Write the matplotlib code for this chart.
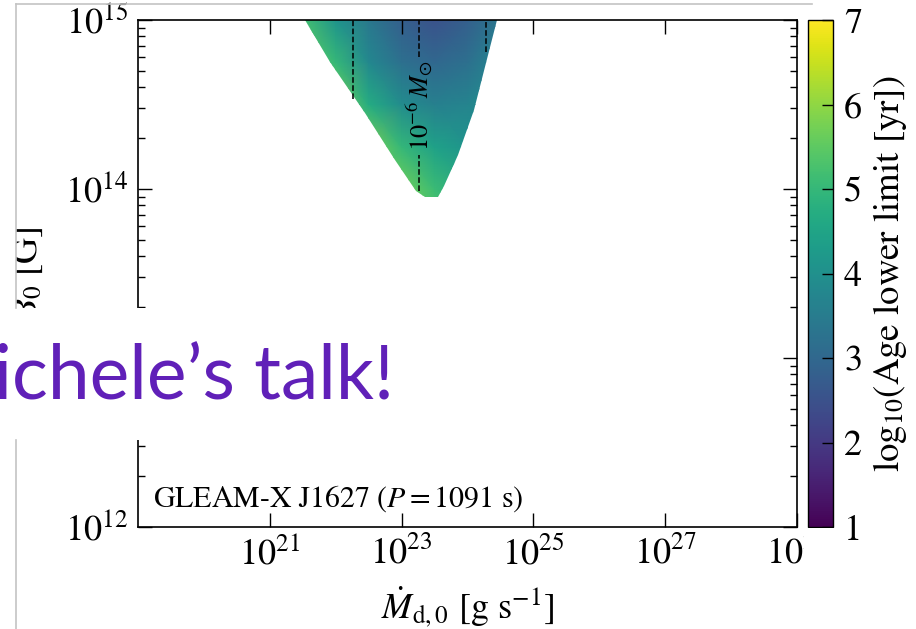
import matplotlib
matplotlib.use('Agg')
import matplotlib.pyplot as plt
import numpy as np
from matplotlib import ticker
from matplotlib.patches import Polygon, Rectangle
from matplotlib.lines import Line2D

plt.rcParams['font.family'] = 'STIXGeneral'
plt.rcParams['mathtext.fontset'] = 'stix'

# Age lower limit table, log10(yr), on a grid of log10(Mdot) x log10(B0)
log_mdot_grid = [21.5, 22.0, 22.5, 23.0, 23.5, 24.0, 24.5]
log_b_grid = [13.9, 14.0, 14.25, 14.5, 14.75, 15.0]
log_age = [
    [5.8, 5.8, 5.8, 5.8, 5.3, 4.7, 4.7],
    [5.8, 5.8, 5.8, 5.7, 5.1, 4.6, 4.6],
    [5.8, 5.8, 5.8, 5.0, 4.4, 4.1, 4.2],
    [5.8, 5.8, 4.7, 3.9, 3.6, 3.7, 4.0],
    [5.6, 5.0, 3.8, 3.2, 3.0, 3.2, 3.8],
    [5.2, 4.1, 3.4, 2.8, 2.5, 2.8, 3.4],
]

# Boundary of the allowed region (log10 Mdot, log10 B0)
left_edge_mdot = [21.53, 21.92, 22.45, 22.90, 23.22, 23.35]
left_edge_b = [15.0, 14.75, 14.45, 14.17, 13.99, 13.95]
right_edge_mdot = [23.55, 23.65, 23.85, 24.10, 24.30, 24.45]
right_edge_b = [13.95, 14.02, 14.20, 14.47, 14.77, 15.0]

# Constant accreted-mass lines: position and lower end
mass_line_mdot = [22.27, 23.27, 24.28]
mass_line_bottom = [14.53, 13.99, 14.81]
mass_label = r'$10^{-6}\,M_{\odot}$'
mass_label_gap = (14.20, 14.78)

x_tick_exp = [21, 23, 25, 27, 29]
cbar_ticks = [1, 2, 3, 4, 5, 6, 7]

W, H = 916, 629
fig = plt.figure(figsize=(W / 100, H / 100), dpi=100)
ax = fig.add_axes([138 / W, 1 - 527 / H, 659 / W, 507 / H])
cax = fig.add_axes([808 / W, 1 - 527 / H, 25 / W, 507 / H])

ax.set_xscale('log')
ax.set_yscale('log')

X, Y = np.meshgrid(10.0 ** np.array(log_mdot_grid), 10.0 ** np.array(log_b_grid))
mesh = ax.pcolormesh(X, Y, np.array(log_age), shading='gouraud', cmap='viridis',
                     vmin=1, vmax=7, zorder=1)

# clip the colour field to the allowed wedge
wedge_x = np.array(left_edge_mdot + right_edge_mdot)
wedge_y = np.array(left_edge_b + right_edge_b)
wedge = Polygon(np.column_stack([10 ** wedge_x, 10 ** wedge_y]), closed=True,
                transform=ax.transData, facecolor='none', edgecolor='none')
ax.add_patch(wedge)
mesh.set_clip_path(wedge)

# dashed mass lines
for m, b in zip(mass_line_mdot, mass_line_bottom):
    if m == mass_line_mdot[1]:
        ax.plot([10 ** m] * 2, [10 ** b, 10 ** mass_label_gap[0]], 'k--', lw=1.1, zorder=3)
        ax.plot([10 ** m] * 2, [10 ** mass_label_gap[1], 1e15], 'k--', lw=1.1, zorder=3)
        ax.text(10 ** m, 10 ** np.mean(mass_label_gap), mass_label, rotation=90,
                ha='center', va='center', fontsize=19, zorder=3)
    else:
        ax.plot([10 ** m] * 2, [10 ** b, 1e15], 'k--', lw=1.1, zorder=3)

ax.set_xlim(1e19, 1e29)
ax.set_ylim(1e12, 1e15)
ax.xaxis.set_major_locator(ticker.FixedLocator([10.0 ** e for e in x_tick_exp]))
ax.xaxis.set_minor_locator(ticker.NullLocator())
ax.tick_params(which='both', direction='in', top=True, right=True, width=1.0)
ax.tick_params(which='major', length=10, labelsize=26, pad=7)
ax.tick_params(which='minor', length=5)
for s in ax.spines.values():
    s.set_linewidth(1.2)

ax.set_xlabel(r'$\dot{M}_{\rm d,0}$ [g s$^{-1}$]', fontsize=26, labelpad=9)
ax.set_ylabel(r'$B_0$ [G]', fontsize=26)
ax.yaxis.set_label_coords(-0.141, 0.5)

ax.text(0.023, 0.04, r'GLEAM-X J1627 ($P = 1091$ s)', transform=ax.transAxes,
        fontsize=21.5, va='baseline', ha='left')

cb = fig.colorbar(mesh, cax=cax, ticks=cbar_ticks)
cb.outline.set_linewidth(1.0)
cb.ax.tick_params(direction='in', length=8, width=1.0, labelsize=26, pad=8)
cb.ax.minorticks_off()
cb.set_label(r'log$_{10}$(Age lower limit [yr])', fontsize=26.5, labelpad=6)

# slide overlay: frame lines, white boxes and caption
white_kw = dict(transform=fig.transFigure, facecolor='white', edgecolor='none', zorder=5)
fig.add_artist(Rectangle((0, 0), 16 / W, 1, **white_kw))
fig.add_artist(Rectangle((0, 1 - 440 / H), 430 / W, 132 / H, **white_kw))
fig.add_artist(Rectangle((804 / W, 1 - 566 / H), 36 / W, 38 / H, **white_kw))
frame_kw = dict(color='#c4c4c4', lw=1.2, transform=fig.transFigure, zorder=6)
fig.add_artist(Line2D([16 / W, 812 / W], [1 - 4 / H, 1 - 4 / H], **frame_kw))
fig.add_artist(Line2D([16 / W, 16 / W], [1 - 4 / H, 1 - 308 / H], **frame_kw))
fig.add_artist(Line2D([16 / W, 16 / W], [1 - 440 / H, 0], **frame_kw))
fig.text(-6 / W, 1 - 400 / H, 'ichele\u2019s talk!', fontsize=54, color='#6020b8',
         family='Lato', ha='left', va='baseline', zorder=7)

fig.savefig('out.png', dpi=100)
